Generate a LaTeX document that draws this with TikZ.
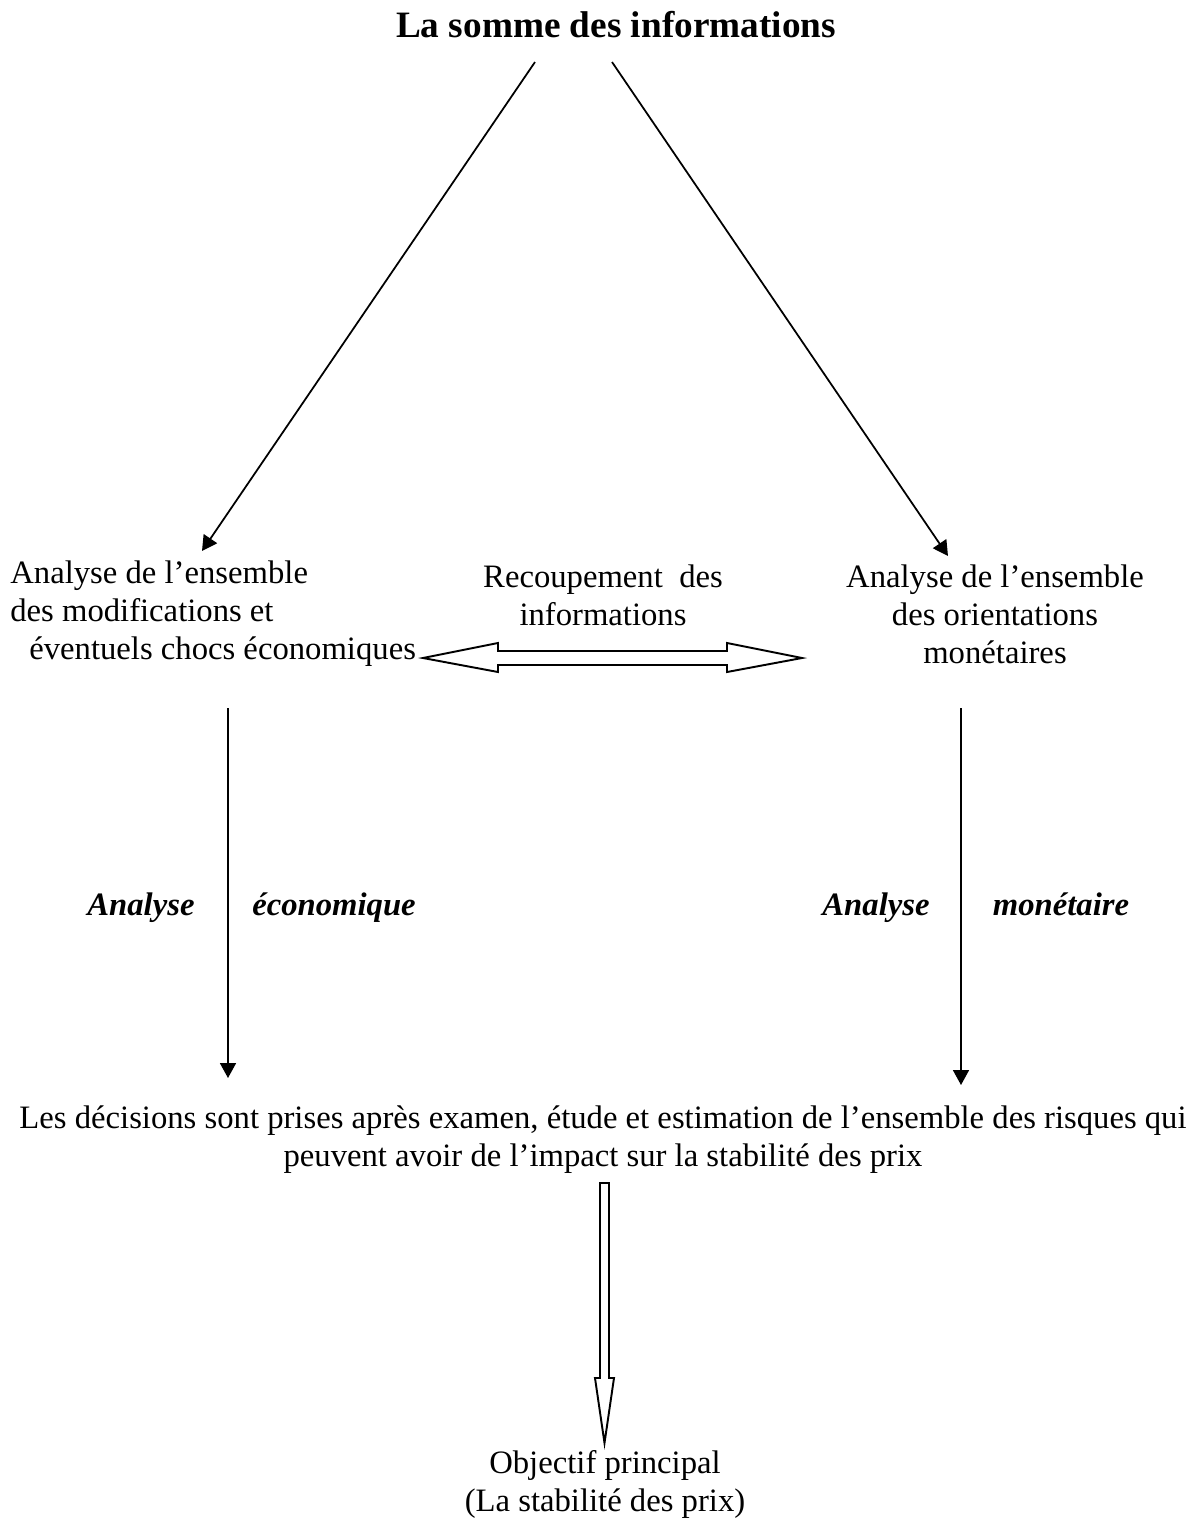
\documentclass[tikz,border=0pt]{standalone}
\usepackage{fontspec}
\setmainfont{Liberation Serif}
\usetikzlibrary{arrows.meta}

\begin{document}
\begin{tikzpicture}[x=0.02cm, y=-0.02cm,
    txt/.style={font=\fontsize{18.6}{21.6}\selectfont, inner sep=0pt},
    lbl/.style={font=\fontsize{18.6}{21.6}\selectfont\bfseries\itshape, inner sep=0pt, anchor=base},
    arr/.style={line width=1pt, -{Triangle[length=3mm, width=3.2mm]}},
    hollow/.style={line width=1.1pt, line join=miter}]
    \useasboundingbox (0,0) rectangle (1197,1519);

    \node[font=\fontsize{21.2}{25}\selectfont\bfseries, inner sep=0pt] (titre) at (616,25) {La somme des informations};

    \node[txt, align=left, anchor=west] (eco) at (10,614)
        {Analyse de l'ensemble\\des modifications et\\\hspace*{0.38cm}éventuels chocs économiques};
    \node[txt, align=center] (recoup) at (603,595) {Recoupement~~des\\informations};
    \node[txt, align=center] (mon) at (995,614) {Analyse de l'ensemble\\des orientations\\monétaires};

    \coordinate (dg1) at (535,62);
    \coordinate (dg2) at (202,551);
    \coordinate (dd1) at (612,62);
    \coordinate (dd2) at (948,556);
    \draw[arr] (dg1) -- (dg2);
    \draw[arr] (dd1) -- (dd2);

    \coordinate (dbl) at (423,658);
    \draw[hollow] (dbl) -- ++(75,-15) -- ++(0,8) -- ++(229,0) -- ++(0,-8) -- ++(75,15)
        -- ++(-75,14) -- ++(0,-7) -- ++(-229,0) -- ++(0,7) -- cycle;

    \coordinate (vg1) at (228,708);
    \coordinate (vg2) at (228,1078);
    \coordinate (vd1) at (961,708);
    \coordinate (vd2) at (961,1085);
    \draw[arr] (vg1) -- (vg2);
    \draw[arr] (vd1) -- (vd2);

    \node[lbl] (ag) at (141,915) {Analyse};
    \node[lbl] (eg) at (334,915) {économique};
    \node[lbl] (ad) at (876,915) {Analyse};
    \node[lbl] (md) at (1061,915) {monétaire};

    \node[txt, align=center] (decis) at (603,1140)
        {Les décisions sont prises après examen, étude et estimation de l'ensemble des risques qui\\peuvent avoir de l'impact sur la stabilité des prix};

    \coordinate (bas) at (600,1183);
    \draw[hollow] (bas) -- ++(9,0) -- ++(0,195) -- ++(5,0) -- ++(-9.5,65) -- ++(-9.5,-65)
        -- ++(5,0) -- cycle;

    \node[txt, align=center] (obj) at (605,1484) {Objectif principal\\(La stabilité des prix)};
\end{tikzpicture}
\end{document}
